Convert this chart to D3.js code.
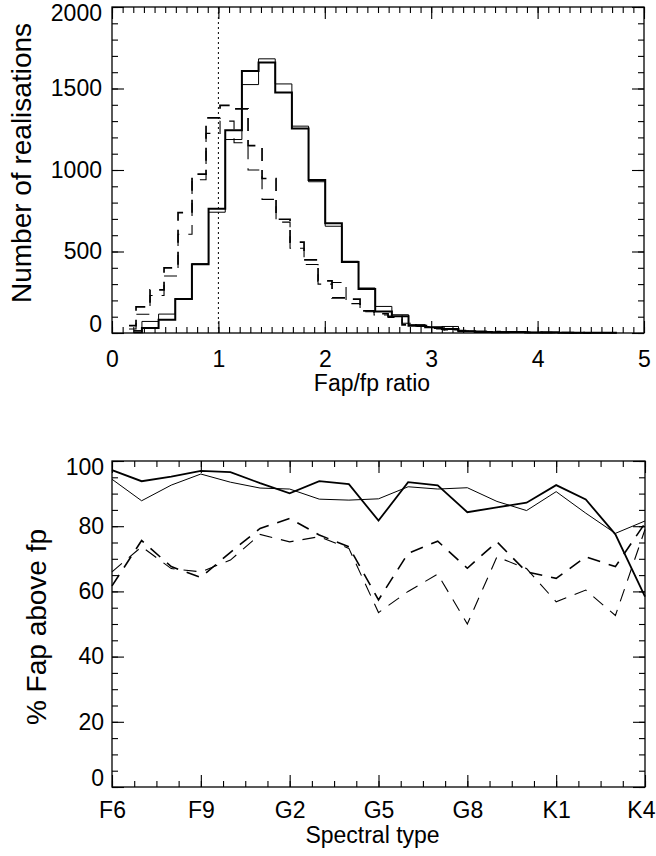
<!DOCTYPE html>
<html>
<head>
<meta charset="utf-8">
<script src="https://cdn.jsdelivr.net/npm/d3@7/dist/d3.min.js"></script>
<style>
	body { margin: 0; background: #fff; }
	svg { display: block; font-family: "Liberation Sans", Arial, Helvetica, sans-serif; }
	.axis text { font-size: 23px; fill: #000; }
	.axis line { stroke: #000; stroke-width: 1.1; }
	.axis path { display: none; }
</style>
</head>
<body>
<svg id="chart" width="656" height="856"></svg>
<script>

// ---- upper panel: histogram of Fap/fp ratio ----
var solidStart = 0.203;
var solidWidth = 0.1566;
var solidThick = [4, 30, 81, 208, 422, 762, 1244, 1607, 1660, 1475, 1254, 938, 673, 435, 270, 132, 102, 45, 35, 24, 10, 6, 4, 6, 3, 4, 2, 2, 1, 1];
var solidThin = [15, 71, 116, 208, 425, 741, 1187, 1524, 1682, 1528, 1269, 928, 655, 440, 276, 163, 112, 51, 35, 40, 12, 8, 5, 4, 4, 2, 3, 1, 1, 0];

var dashStart = 0.160;
var dashWidth = 0.1316;
var dashThick = [45, 160, 265, 400, 738, 975, 1320, 1397, 1375, 1150, 948, 698, 557, 449, 320, 215, 208, 136, 118, 102, 50, 45, 30, 20, 14, 10, 8, 6, 5, 4, 3, 3, 2, 1];
var dashThin = [25, 115, 230, 350, 606, 940, 1225, 1300, 1167, 1000, 820, 680, 520, 420, 300, 310, 180, 130, 110, 95, 60, 40, 25, 18, 12, 9, 7, 5, 4, 3, 2, 2, 1, 1];

var ratioTicks = [0, 1, 2, 3, 4, 5];
var countTicks = [0, 500, 1000, 1500, 2000];
var ratioMark = 1;

// ---- lower panel: % Fap above fp per spectral type ----
var spectralTypes = ["F6", "F7", "F8", "F9", "G0", "G1", "G2", "G3", "G4", "G5", "G6", "G7", "G8", "G9", "K0", "K1", "K2", "K3", "K4"];
var spectralTicks = ["F6", "F9", "G2", "G5", "G8", "K1", "K4"];
var pctThick = [97.2, 93.8, 95.2, 97.0, 96.6, 93.2, 90.1, 93.8, 92.9, 81.7, 93.5, 92.5, 84.3, 85.8, 87.2, 92.6, 88.2, 77.5, 58.4];
var pctThin = [94.4, 87.8, 92.6, 96.0, 93.5, 91.7, 91.4, 88.3, 88.0, 88.4, 92.1, 91.4, 91.8, 87.6, 84.8, 90.6, 84.0, 77.8, 81.6];
var pctDashThick = [61.7, 75.6, 67.6, 64.3, 72.0, 79.3, 82.4, 77.3, 73.7, 57.4, 71.7, 75.4, 67.1, 75.2, 66.0, 64.0, 70.6, 67.6, 80.9];
var pctDashThin = [66.0, 73.7, 67.0, 66.0, 69.6, 77.5, 75.2, 76.8, 73.2, 53.5, 60.0, 65.3, 50.0, 70.6, 67.0, 56.8, 60.4, 52.6, 79.0];
var pctTicks = [0, 20, 40, 60, 80, 100];


var svg = d3.select("#chart");

function bins(start, width, counts){
	return counts.map(function(c, i){ return {x: start + i * width, y: c}; });
}

// IDL style box: ticks pointing inward on all four sides
function frame(g, xScale, yScale, opt){
	var w = xScale.range()[1], h = yScale.range()[0];
	var major = 12, minor = 6;

	var xl = g.append("g").attr("class", "axis")
		.attr("transform", "translate(0," + h + ")")
		.call(d3.axisBottom(xScale).tickValues(opt.xMajor).tickSize(-major).tickPadding(opt.xPad).tickFormat(opt.xFormat));
	g.append("g").attr("class", "axis")
		.attr("transform", "translate(0," + h + ")")
		.call(d3.axisBottom(xScale).tickValues(opt.xMinor).tickSize(-minor).tickFormat(""));
	g.append("g").attr("class", "axis")
		.call(d3.axisTop(xScale).tickValues(opt.xMajor).tickSize(-major).tickFormat(""));
	g.append("g").attr("class", "axis")
		.call(d3.axisTop(xScale).tickValues(opt.xMinor).tickSize(-minor).tickFormat(""));

	var yl = g.append("g").attr("class", "axis")
		.call(d3.axisLeft(yScale).tickValues(opt.yMajor).tickSize(-major).tickPadding(opt.yPad).tickFormat(d3.format("d")));
	g.append("g").attr("class", "axis")
		.call(d3.axisLeft(yScale).tickValues(opt.yMinor).tickSize(-minor).tickFormat(""));
	g.append("g").attr("class", "axis")
		.attr("transform", "translate(" + w + ",0)")
		.call(d3.axisRight(yScale).tickValues(opt.yMajor).tickSize(-major).tickFormat(""));
	g.append("g").attr("class", "axis")
		.attr("transform", "translate(" + w + ",0)")
		.call(d3.axisRight(yScale).tickValues(opt.yMinor).tickSize(-minor).tickFormat(""));

	// end labels sit a little inside the box
	var lo = d3.min(opt.yMajor), hi = d3.max(opt.yMajor);
	yl.selectAll(".tick text").attr("y", function(d){
		return d === lo ? -9 : (d === hi ? 6 : 0);
	});

	// last x label hugs the page edge
	if(opt.lastEnd){
		var xhi = d3.max(opt.xMajor);
		xl.selectAll(".tick text")
			.filter(function(d){ return d === xhi; })
			.attr("text-anchor", "end")
			.attr("x", opt.lastEnd);
	}

	g.append("rect")
		.attr("width", w).attr("height", h)
		.attr("fill", "none").attr("stroke", "#000").attr("stroke-width", 1.3);

	g.append("text")
		.attr("x", w / 2 - 6).attr("y", h + opt.xTitleY)
		.attr("text-anchor", "middle")
		.style("font-size", "23px")
		.text(opt.xTitle);

	g.append("text")
		.attr("transform", "translate(" + opt.yTitleX + "," + (h / 2 + opt.yTitleDy) + ") rotate(-90)")
		.attr("text-anchor", "middle")
		.attr("dy", "0.35em")
		.style("font-size", "28px")
		.text(opt.yTitle);
}

function minorTicks(lo, hi, step){
	var out = [];
	for(var v = lo; v <= hi + 1e-9; v += step) out.push(+v.toFixed(4));
	return out;
}


// ---- histogram panel ----
var top_w = 532, top_h = 326;
var gTop = svg.append("g").attr("transform", "translate(112,7)");

var xRatio = d3.scaleLinear().domain([0, 5]).range([0, top_w]);
var yCount = d3.scaleLinear().domain([0, 2000]).range([top_h, 0]);

var step = d3.line()
	.x(function(d){ return xRatio(d.x); })
	.y(function(d){ return yCount(d.y); })
	.curve(d3.curveStep);

gTop.append("line")
	.attr("x1", xRatio(ratioMark)).attr("x2", xRatio(ratioMark))
	.attr("y1", 0).attr("y2", top_h)
	.attr("stroke", "#000").attr("stroke-width", 1)
	.attr("stroke-dasharray", "2,3");

var histSeries = [
	{data: bins(solidStart, solidWidth, solidThin), width: 1, dash: null},
	{data: bins(solidStart, solidWidth, solidThick), width: 2, dash: null},
	{data: bins(dashStart, dashWidth, dashThin), width: 1.1, dash: "13,9"},
	{data: bins(dashStart, dashWidth, dashThick), width: 1.7, dash: "13,9"}
];

gTop.selectAll(".hist")
	.data(histSeries)
	.enter().append("path")
	.attr("class", "hist")
	.attr("d", function(s){ return step(s.data); })
	.attr("fill", "none")
	.attr("stroke", "#000")
	.attr("stroke-width", function(s){ return s.width; })
	.attr("stroke-dasharray", function(s){ return s.dash; });

frame(gTop, xRatio, yCount, {
	xMajor: ratioTicks, xMinor: minorTicks(0, 5, 0.1), xFormat: d3.format("d"), xPad: 18,
	yMajor: countTicks, yMinor: minorTicks(0, 2000, 100), yPad: 10,
	xTitle: "Fap/fp ratio", xTitleY: 58,
	yTitle: "Number of realisations", yTitleX: -91, yTitleDy: -7
});


// ---- spectral type panel ----
var bot_w = 533, bot_h = 326;
var gBot = svg.append("g").attr("transform", "translate(112,461)");

var xType = d3.scaleLinear().domain([0, spectralTypes.length - 1]).range([0, bot_w]);
var yPct = d3.scaleLinear().domain([0, 100]).range([bot_h, 0]);

var typeMajor = spectralTicks.map(function(t){ return spectralTypes.indexOf(t); });

var line = d3.line()
	.x(function(d, i){ return xType(i); })
	.y(function(d){ return yPct(d); });

var pctSeries = [
	{data: pctThin, width: 1, dash: null},
	{data: pctThick, width: 1.8, dash: null},
	{data: pctDashThin, width: 1.1, dash: "13,9"},
	{data: pctDashThick, width: 1.6, dash: "13,9"}
];

gBot.selectAll(".pct")
	.data(pctSeries)
	.enter().append("path")
	.attr("class", "pct")
	.attr("d", function(s){ return line(s.data); })
	.attr("fill", "none")
	.attr("stroke", "#000")
	.attr("stroke-width", function(s){ return s.width; })
	.attr("stroke-dasharray", function(s){ return s.dash; });

frame(gBot, xType, yPct, {
	xMajor: typeMajor, xMinor: minorTicks(0, spectralTypes.length - 1, 0.75),
	xFormat: function(i){ return spectralTypes[i]; }, xPad: 15, lastEnd: 10,
	yMajor: pctTicks, yMinor: minorTicks(0, 100, 5), yPad: 8,
	xTitle: "Spectral type", xTitleY: 56,
	yTitle: "% Fap above fp", yTitleX: -76, yTitleDy: 3
});

</script>
</body>
</html>
